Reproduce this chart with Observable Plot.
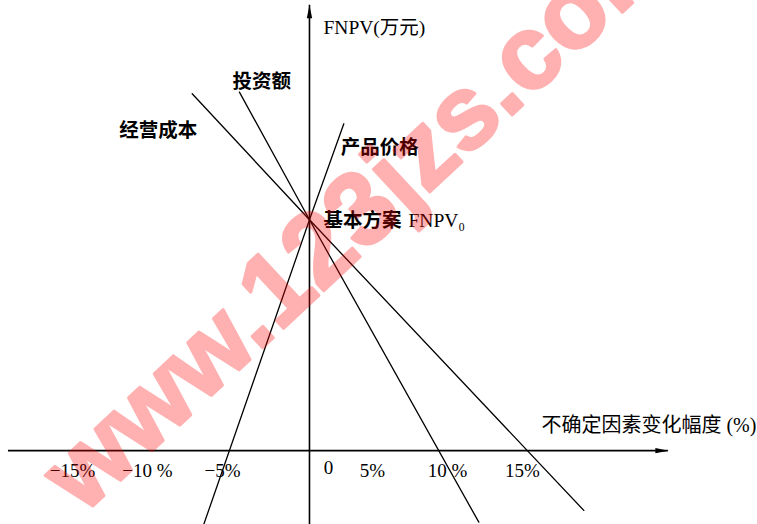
<!DOCTYPE html>
<html>
<head>
<meta charset="utf-8">
<script src="https://cdn.jsdelivr.net/npm/d3@7"></script>
<script src="https://cdn.jsdelivr.net/npm/@observablehq/plot@0.6"></script>
<style>
  html, body { margin: 0; padding: 0; background: #ffffff; }
  #chart svg { display: block; }
</style>
</head>
<body>
<div id="chart"></div>
<script>
// ---- data ----
// sensitivity lines: uncertain factor change (%) vs FNPV (arbitrary units, base = 100)
const factors      = ["经营成本", "投资额", "产品价格"];
const changeUpper  = [-7.82, -4.67, 2.29];     // % change at upper end of each line
const fnpvUpper    = [154.6, 155.3, 141.6];    // FNPV at upper end
const changeLower  = [18.29, 11.29, -7.05];    // % change at lower end
const fnpvLower    = [-25.9, -31.0, -32.0];    // FNPV at lower end
const baseFNPV     = 100;                       // base-case FNPV0 (at 0% change)

const tickValues   = [-15, -10, -5, 5, 10, 15];
const tickLabels   = ["−15%", "−10 %", "−5%", "5%", "10 %", "15%"];
const originLabel  = "0";

const yAxisTitle   = "FNPV(万元)";
const xAxisTitle   = "不确定因素变化幅度 (%)";
const baseLabelCn  = "基本方案";
const baseLabelEn  = "FNPV₀";
const watermark    = "www.123jzs.com";

// axis extents (data units)
const xAxisFrom = -20.07, xAxisTo = 23.93;
const yAxisFrom = -32, yAxisTo = 192.9;

// ---- tables built from the arrays ----
const lineRows = factors.flatMap((f, i) => [
  {factor: f, change: changeUpper[i], fnpv: fnpvUpper[i]},
  {factor: f, change: 0, fnpv: baseFNPV},
  {factor: f, change: changeLower[i], fnpv: fnpvLower[i]}
]);
const upperEnds = factors.map((f, i) => ({factor: f, change: changeUpper[i], fnpv: fnpvUpper[i]}));
const tickRows = tickValues.map((v, i) => ({v, label: tickLabels[i]}));

const serif = "'Liberation Serif', 'Times New Roman', 'DejaVu Serif', serif";
const cjk = "'Liberation Serif', 'Noto Sans CJK SC', sans-serif";

// slim filled arrowhead, tip at the origin, pointing up
const arrowHead = {
  draw(ctx) {
    ctx.moveTo(0, 0);
    ctx.lineTo(2.7, 13);
    ctx.lineTo(-2.7, 13);
    ctx.closePath();
  }
};

const chart = Plot.plot({
  width: 757,
  height: 524,
  margin: 0,
  x: {domain: [-20.6, 29.87], axis: null},
  y: {domain: [-32, 195], axis: null},
  style: {background: "#ffffff", fontFamily: serif},
  marks: [
    // axes
    Plot.ruleY([0], {x1: xAxisFrom, x2: xAxisTo, stroke: "#000", strokeWidth: 1.6}),
    Plot.ruleX([0], {y1: yAxisFrom, y2: yAxisTo, stroke: "#000", strokeWidth: 1.6}),
    Plot.dot([{x: 0, y: yAxisTo}], {x: "x", y: "y", symbol: arrowHead, fill: "#000", stroke: "none"}),
    Plot.dot([{x: xAxisTo, y: 0}], {x: "x", y: "y", symbol: arrowHead, rotate: 90, fill: "#000", stroke: "none"}),

    // sensitivity lines
    Plot.line(lineRows, {x: "change", y: "fnpv", z: "factor", stroke: "#000", strokeWidth: 1.3, curve: "linear"}),

    // line labels
    Plot.text([upperEnds[0]], {x: "change", y: "fnpv", text: "factor", textAnchor: "end", dx: 5, dy: 37,
      fontSize: 19.5, fontWeight: "bold", fontFamily: cjk, fill: "#000"}),
    Plot.text([upperEnds[1]], {x: "change", y: "fnpv", text: "factor", textAnchor: "start", dx: -7, dy: -10,
      fontSize: 19.5, fontWeight: "bold", fontFamily: cjk, fill: "#000"}),
    Plot.text([upperEnds[2]], {x: "change", y: "fnpv", text: "factor", textAnchor: "start", dx: -3, dy: 24,
      fontSize: 19.5, fontWeight: "bold", fontFamily: cjk, fill: "#000"}),
    Plot.text([{x: 0, y: baseFNPV}], {x: "x", y: "y", text: () => baseLabelCn, textAnchor: "start", dx: 14, dy: 1,
      fontSize: 19.5, fontWeight: "bold", fontFamily: cjk, fill: "#000"}),
    Plot.text([{x: 0, y: baseFNPV}], {x: "x", y: "y", text: () => baseLabelEn, textAnchor: "start", dx: 99, dy: 1,
      fontSize: 19.5, fontFamily: serif, fill: "#000"}),

    // axis titles
    Plot.text([{x: 0, y: yAxisTo}], {x: "x", y: "y", text: () => yAxisTitle, textAnchor: "start", dx: 14, dy: 22,
      fontSize: 19.5, fontFamily: cjk, fill: "#000"}),
    Plot.text([{x: xAxisTo, y: 0}], {x: "x", y: "y", text: () => xAxisTitle, textAnchor: "end", dx: 88, dy: -25,
      fontSize: 20, fontFamily: cjk, fill: "#000"}),

    // tick labels
    Plot.text(tickRows, {x: "v", y: () => 0, text: "label", dx: -12, dy: 20, fontSize: 19, fontFamily: serif, fill: "#000"}),
    Plot.text([{x: 0, y: 0}], {x: "x", y: "y", text: () => originLabel, dx: 19, dy: 17, fontSize: 19, fontFamily: serif, fill: "#000"}),

    // watermark
    Plot.text([watermark], {text: d => d, frameAnchor: "middle", rotate: -43, dx: -18, dy: -52,
      fontSize: 104, fontWeight: "bold", fontFamily: "'Liberation Sans', Arial, sans-serif",
      fill: "#ff0000", stroke: "#ff0000", strokeWidth: 3, opacity: 0.3})
  ]
});

document.getElementById("chart").appendChild(chart);
</script>
</body>
</html>
